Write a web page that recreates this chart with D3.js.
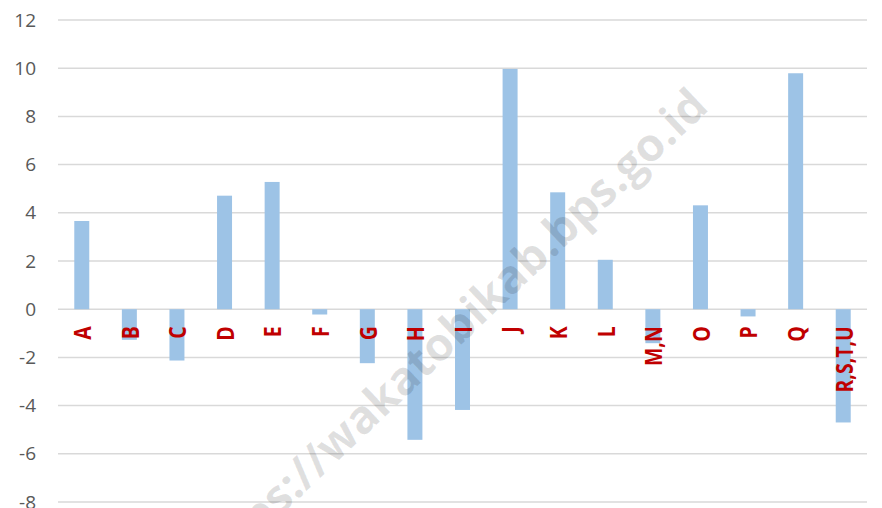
<!DOCTYPE html>
<html>
<head>
<meta charset="utf-8">
<script src="https://cdn.jsdelivr.net/npm/d3@7"></script>
<style>
  body { margin: 0; background: #fff; }
  svg { display: block; }
</style>
</head>
<body>
<svg id="chart" width="882" height="508"></svg>
<script>
const categories = ["A", "B", "C", "D", "E", "F", "G", "H", "I", "J", "K", "L", "M,N", "O", "P", "Q", "R,S,T,U"];
const values = [3.66, -1.27, -2.13, 4.71, 5.28, -0.22, -2.24, -5.42, -4.18, 9.97, 4.85, 2.05, -1.41, 4.31, -0.3, 9.79, -4.7];
const yTicks = [-8, -6, -4, -2, 0, 2, 4, 6, 8, 10, 12];
const watermark = "https://wakatobikab.bps.go.id";

const width = 882, height = 508;
const margin = { top: 20, right: 15, bottom: 6, left: 58 };

const svg = d3.select("#chart");

const x = d3.scaleBand()
  .domain(categories)
  .range([margin.left, width - margin.right])
  .paddingInner(0.685)
  .paddingOuter(0.342);

const y = d3.scaleLinear()
  .domain([-8, 12])
  .range([height - margin.bottom, margin.top]);

// gridlines
svg.append("g")
  .selectAll("line")
  .data(yTicks)
  .join("line")
  .attr("x1", margin.left)
  .attr("x2", width - margin.right)
  .attr("y1", d => y(d))
  .attr("y2", d => y(d))
  .attr("stroke", "#d9d9d9")
  .attr("stroke-width", 1.5);

// y axis labels (plain hyphen for negatives, like the source)
const yAxis = svg.append("g")
  .attr("transform", `translate(${margin.left - 22},0)`)
  .call(d3.axisLeft(y).tickValues(yTicks).tickFormat(d => String(d)).tickSize(0).tickPadding(0));
yAxis.select(".domain").remove();
yAxis.selectAll("text")
  .attr("fill", "#595959")
  .attr("font-family", "'Open Sans', sans-serif")
  .attr("font-size", 19);

// bars
svg.append("g")
  .selectAll("rect")
  .data(values)
  .join("rect")
  .attr("x", (d, i) => x(categories[i]))
  .attr("width", x.bandwidth())
  .attr("y", d => y(Math.max(0, d)))
  .attr("height", d => Math.abs(y(d) - y(0)))
  .attr("fill", "#9dc3e6");

// category labels
svg.append("g")
  .selectAll("text")
  .data(categories)
  .join("text")
  .attr("transform", d => `translate(${x(d) + x.bandwidth() / 2},${y(0) + 17}) scale(1.22,1) rotate(-90)`)
  .attr("text-anchor", "end")
  .attr("dominant-baseline", "central")
  .attr("font-family", "'Open Sans', sans-serif")
  .attr("font-weight", "bold")
  .attr("font-size", 19.5)
  .attr("fill", "#c00000")
  .text(d => d);

// watermark
svg.append("text")
  .attr("transform", "translate(698,96) rotate(-43.4)")
  .attr("text-anchor", "end")
  .attr("dominant-baseline", "central")
  .attr("font-family", "'Open Sans', sans-serif")
  .attr("font-weight", "bold")
  .attr("font-size", 46)
  .attr("fill", "#000")
  .attr("fill-opacity", 0.12)
  .text(watermark);
</script>
</body>
</html>
